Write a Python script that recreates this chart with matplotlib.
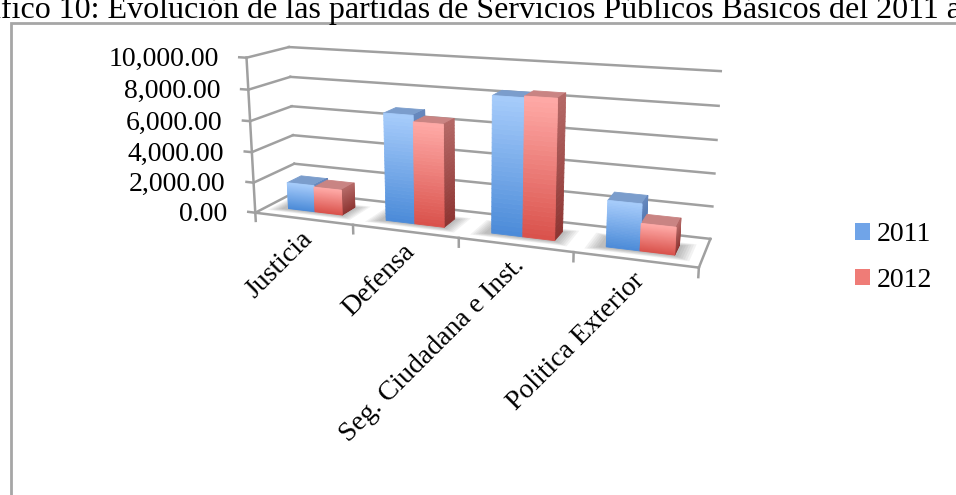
import matplotlib
matplotlib.use("Agg")
import numpy as np
import matplotlib.pyplot as plt
from matplotlib.colors import to_rgb
from matplotlib.patches import Patch, Rectangle
from matplotlib.transforms import offset_copy
from mpl_toolkits.mplot3d import proj3d
from mpl_toolkits.mplot3d.art3d import Poly3DCollection

# ---- data -------------------------------------------------------------
categories = ["Justicia", "Defensa", "Seg. Ciudadana e Inst.", "Politica Exterior"]
series_names = ["2011", "2012"]
values_2011 = [1750, 6850, 8400, 2800]
values_2012 = [1650, 6450, 8500, 1650]
y_ticks = [0, 2000, 4000, 6000, 8000, 10000]
y_tick_labels = [f"{v:,.2f}" for v in y_ticks]
title_text = ("Gráfico 10: Evolución de las partidas de Servicios Públicos "
              "Básicos del 2011 al 2012")

# ---- styling ----------------------------------------------------------
SERIF = ["Liberation Serif", "DejaVu Serif"]
FS = 20
GRID = "#a0a0a0"
styles = {
    "2011": dict(front_top="#a7ccfb", front_bottom="#4a8ad8", top="#7b9dcc",
                 side_top="#6688bd", side_bottom="#3c67a6", legend="#70a4e8"),
    "2012": dict(front_top="#ffaaa7", front_bottom="#d9504a", top="#c98483",
                 side_top="#b56967", side_bottom="#8d3431", legend="#ef7c77"),
}

W, H = 956, 495
fig = plt.figure(figsize=(W / 100, H / 100), dpi=100)

# ---- 3-D plotting box (view chosen to give Excel-like perspective) ------
S = 500.0
cx, cy = 0.4882, 0.6907
ax = fig.add_axes([cx - S / 2 / W, cy - S / 2 / H, S / W, S / H], projection="3d")
n_cat = len(categories)
DEPTH = 1.0
ZMAX = y_ticks[-1]
ax.set_xlim(0, n_cat)
ax.set_ylim(0, DEPTH)
ax.set_zlim(0, ZMAX)
ax.view_init(elev=13.8545, azim=-69.6331)
ax.set_proj_type("persp", focal_length=0.3577)
ax.set_box_aspect((4, 0.7159, 1.4308), zoom=0.9698)
ax.set_axis_off()
ax.computed_zorder = False
ax.apply_aspect()


def line3(xs, ys, zs, **kw):
    (ln,) = ax.plot(xs, ys, zs, color=GRID, lw=1.8, zorder=1, **kw)
    ln.set_clip_on(False)
    return ln


# walls, floor and tick marks
for v in y_ticks:
    line3([0, 0], [0, DEPTH], [v, v])
    line3([0, n_cat], [DEPTH, DEPTH], [v, v])
    line3([-0.075, 0], [0, 0], [v, v])
line3([0, 0], [0, 0], [-550, ZMAX])
line3([0, n_cat], [0, 0], [0, 0])
line3([n_cat, n_cat], [0, DEPTH], [0, 0])
for i in range(1, n_cat + 1):
    line3([i, i], [0, 0], [0, -550])


def lerp(c0, c1, t):
    a, b = np.array(to_rgb(c0)), np.array(to_rgb(c1))
    return tuple(a + (b - a) * t)


def bar_faces(x0, x1, y0, y1, h, st, side_from=0.0, n=30):
    polys, cols = [], []
    for k in range(n):  # front face, light at the top
        za, zb = h * k / n, h * (k + 1) / n
        polys.append([(x0, y0, za), (x1, y0, za), (x1, y0, zb), (x0, y0, zb)])
        cols.append(lerp(st["front_bottom"], st["front_top"], (k + 0.5) / n))
    if h > side_from:  # right side face (only the part not hidden)
        for k in range(n):
            za = side_from + (h - side_from) * k / n
            zb = side_from + (h - side_from) * (k + 1) / n
            polys.append([(x1, y0, za), (x1, y1, za), (x1, y1, zb), (x1, y0, zb)])
            cols.append(lerp(st["side_bottom"], st["side_top"], (za + zb) / 2 / h))
    polys.append([(x0, y0, h), (x1, y0, h), (x1, y1, h), (x0, y1, h)])
    cols.append(to_rgb(st["top"]))
    return polys, cols


bar_w = 0.28
by0, by1 = 0.30, 0.65
series_vals = [values_2011, values_2012]

# soft floor shadows under each pair of bars
sh_polys, sh_cols = [], []
for ci in range(n_cat):
    gx0 = ci + 0.5 - bar_w
    gx1 = ci + 0.5 + bar_w
    for m in np.linspace(0.10, 0.0, 6):
        sh_polys.append([(gx0 - m - 0.06, by0 - m - 0.04, 0),
                         (gx1 + m + 0.03, by0 - m - 0.04, 0),
                         (gx1 + m + 0.03, by1 + m, 0),
                         (gx0 - m - 0.06, by1 + m, 0)])
        sh_cols.append((0.3, 0.3, 0.3, 0.07))
shadow = Poly3DCollection(sh_polys, facecolors=sh_cols, edgecolors="none", zorder=2)
shadow.set_clip_on(False)
ax.add_collection3d(shadow)

# bars
all_polys, all_cols = [], []
for si, name in enumerate(series_names):
    for ci, v in enumerate(series_vals[si]):
        x0 = ci + 0.5 - bar_w + si * bar_w
        hidden = series_vals[si + 1][ci] if si + 1 < len(series_names) else 0.0
        p, c = bar_faces(x0, x0 + bar_w, by0, by1, v, styles[name], side_from=hidden)
        all_polys += p
        all_cols += c
bars = Poly3DCollection(all_polys, facecolors=all_cols, edgecolors=all_cols,
                        linewidths=0.6, zorder=3)
bars.set_clip_on(False)
ax.add_collection3d(bars)


def to_2d(x, y, z):
    xs, ys, _ = proj3d.proj_transform(x, y, z, ax.get_proj())
    return xs, ys


# value axis labels
for v, lab in zip(y_ticks, y_tick_labels):
    px, py = to_2d(0, 0, v)
    ax.text2D(px, py, lab, ha="right", va="center", fontsize=FS, family=SERIF,
              transform=offset_copy(ax.transData, fig, x=-28, y=-2, units="dots"))

# category labels
for ci, cat in enumerate(categories):
    px, py = to_2d(ci + 0.5, 0, 0)
    ax.text2D(px, py, cat, ha="right", va="top", rotation=45,
              rotation_mode="anchor", fontsize=FS, family=SERIF,
              transform=offset_copy(ax.transData, fig, x=-3, y=-8, units="dots"))

# legend
handles = [Patch(facecolor=styles[n]["legend"], edgecolor="none") for n in series_names]
fig.legend(handles, series_names, loc="center left",
           bbox_to_anchor=(855 / W, 1 - 257.5 / H), frameon=False,
           borderaxespad=0, borderpad=0,
           handlelength=0.55, handleheight=0.55, handletextpad=0.25,
           labelspacing=0.75, prop={"family": SERIF, "size": FS})

# chart frame
fig.patches.append(Rectangle((10.5 / W, -0.1), 1.2, 1 - 23 / H + 0.1,
                             transform=fig.transFigure, fill=False,
                             edgecolor="#a6a6a6", lw=2))

# caption above the frame (runs past both page edges)
TFS = 23
t = fig.text(0, 1 - 18 / H, title_text, family=SERIF, fontsize=TFS,
             ha="left", va="baseline")
fig.canvas.draw()
r = fig.canvas.get_renderer()
pre = fig.text(0, 0, title_text[:3], family=SERIF, fontsize=TFS)
pre_w = pre.get_window_extent(r).width
pre.remove()
t.set_x(-(pre_w - 1) / W)

fig.savefig("out.png", dpi=100)
